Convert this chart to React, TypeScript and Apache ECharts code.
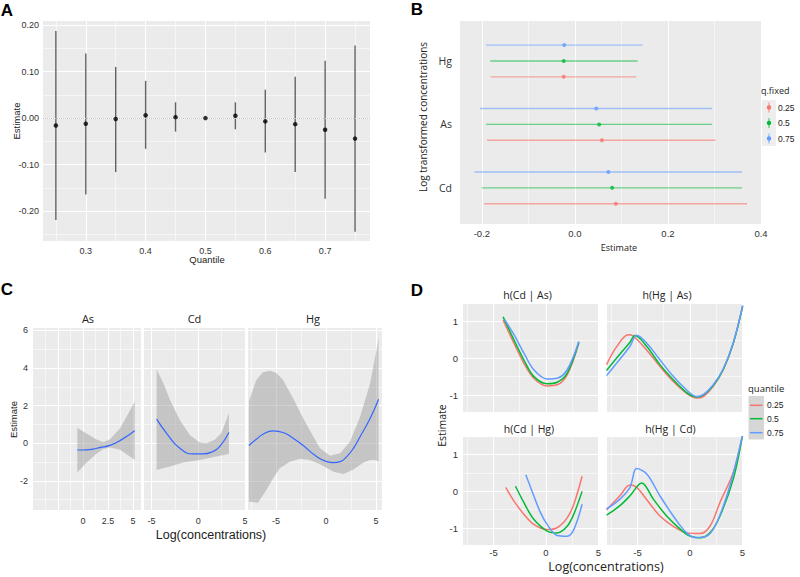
import React, { useEffect, useRef } from "react";
import * as echarts from "echarts";

// ---------------- Panel A ----------------
const quantiles = [0.25, 0.3, 0.35, 0.4, 0.45, 0.5, 0.55, 0.6, 0.65, 0.7, 0.75];
const aEstimate = [-0.016, -0.012, -0.002, 0.006, 0.002, 0.0, 0.005, -0.007, -0.013, -0.025, -0.044];
const aLower = [-0.219, -0.164, -0.116, -0.066, -0.029, -0.001, -0.024, -0.074, -0.116, -0.173, -0.244];
const aUpper = [0.187, 0.139, 0.11, 0.08, 0.034, 0.001, 0.034, 0.061, 0.089, 0.123, 0.156];

// ---------------- Panel B ----------------
const bMetals = ["Cd", "As", "Hg"];
const bLevels = ["0.25", "0.5", "0.75"];
const bEst025 = [0.088, 0.058, -0.024];
const bLow025 = [-0.195, -0.189, -0.181];
const bHigh025 = [0.37, 0.302, 0.132];
const bEst050 = [0.08, 0.052, -0.024];
const bLow050 = [-0.2, -0.191, -0.182];
const bHigh050 = [0.359, 0.295, 0.135];
const bEst075 = [0.072, 0.046, -0.023];
const bLow075 = [-0.216, -0.204, -0.191];
const bHigh075 = [0.359, 0.295, 0.145];

// ---------------- Panel C ----------------
const cFacets = ["As", "Cd", "Hg"];
const cAsFit = [[-0.57, -0.36], [0.37, -0.35], [1.0, -0.31], [1.67, -0.23], [2.7, -0.11], [3.7, 0.14], [5.17, 0.67]];
const cAsUpper = [[-0.57, 0.83], [0.37, 0.5], [1.37, 0.2], [2.03, 0.05], [2.7, 0.21], [3.7, 0.8], [4.37, 1.42], [5.17, 2.22]];
const cAsLower = [[-0.57, -1.56], [0.37, -1.03], [1.37, -0.55], [2.03, -0.3], [2.7, -0.22], [3.7, -0.35], [4.37, -0.58], [5.17, -0.89]];
const cCdFit = [[-4.45, 1.28], [-3.38, 0.53], [-1.97, -0.27], [-0.55, -0.57], [0.51, -0.57], [1.57, -0.44], [2.29, -0.18], [3.28, 0.57]];
const cCdUpper = [[-4.45, 3.94], [-3.74, 3.2], [-3.03, 2.31], [-1.97, 1.24], [-0.9, 0.44], [0.16, 0.04], [0.87, 0.0], [1.76, 0.18], [2.47, 0.53], [3.28, 1.6]];
const cCdLower = [[-4.45, -1.42], [-3.03, -1.24], [-1.61, -1.03], [0.16, -0.89], [1.93, -0.71], [3.28, -0.57]];
const cHgFit = [[-7.71, -0.12], [-6.97, 0.21], [-6.3, 0.48], [-5.3, 0.66], [-4.29, 0.57], [-3.29, 0.27], [-2.28, -0.12], [-0.94, -0.71], [0.07, -0.98], [0.74, -1.03], [1.41, -0.98], [2.08, -0.71], [2.74, -0.27], [3.42, 0.36], [4.42, 1.33], [5.26, 2.34]];
const cHgUpper = [[-7.71, 2.22], [-6.97, 3.37], [-6.3, 3.77], [-5.63, 3.85], [-4.96, 3.73], [-4.29, 3.37], [-3.29, 2.4], [-2.28, 1.33], [-1.27, 0.36], [-0.6, -0.27], [0.4, -0.67], [1.41, -0.53], [2.41, 0.09], [3.42, 1.42], [4.42, 3.2], [5.26, 5.54]];
const cHgLower = [[-7.71, -3.11], [-6.8, -3.16], [-5.96, -2.49], [-5.3, -1.87], [-4.62, -1.33], [-3.62, -0.98], [-2.61, -0.83], [-1.61, -0.89], [-0.6, -1.12], [0.74, -1.51], [1.74, -1.63], [2.74, -1.39], [3.75, -1.03], [4.42, -0.89], [4.92, -0.89], [5.26, -0.98]];

// ---------------- Panel D ----------------
const dFacets = ["h(Cd | As)", "h(Hg | As)", "h(Cd | Hg)", "h(Hg | Cd)"];
const dCdAs025 = [[-4.08, 1.04], [-3.06, 0.42], [-2.11, -0.13], [-1.16, -0.54], [0.11, -0.75], [1.06, -0.72], [2.02, -0.45], [3.13, 0.42]];
const dCdAs050 = [[-4.08, 1.13], [-3.06, 0.51], [-2.11, -0.04], [-1.16, -0.49], [0.11, -0.69], [1.06, -0.65], [2.02, -0.4], [3.13, 0.44]];
const dCdAs075 = [[-3.95, 1.06], [-3.06, 0.65], [-2.11, 0.15], [-1.16, -0.31], [0.11, -0.56], [1.06, -0.54], [2.02, -0.31], [3.13, 0.46]];
const dHgAs025 = [[-7.94, -0.17], [-6.98, 0.32], [-5.87, 0.64], [-5.4, 0.61], [-4.13, 0.23], [-2.86, -0.22], [-1.59, -0.63], [-0.32, -0.95], [0.63, -1.08], [1.27, -1.04], [2.22, -0.76], [3.17, -0.31], [4.13, 0.42], [5.02, 1.42]];
const dHgAs050 = [[-7.94, -0.33], [-6.98, 0.01], [-5.71, 0.44], [-5.24, 0.62], [-4.13, 0.33], [-2.86, -0.17], [-1.59, -0.58], [-0.32, -0.93], [0.63, -1.05], [1.27, -1.0], [2.22, -0.74], [3.17, -0.3], [4.13, 0.42], [5.02, 1.42]];
const dHgAs075 = [[-7.94, -0.47], [-6.98, -0.13], [-5.71, 0.33], [-5.08, 0.63], [-4.13, 0.42], [-2.86, -0.04], [-1.59, -0.49], [-0.32, -0.86], [0.63, -1.04], [1.27, -0.99], [2.22, -0.72], [3.17, -0.29], [4.13, 0.43], [5.02, 1.44]];
const dCdHg025 = [[-3.83, 0.11], [-3.06, -0.26], [-2.11, -0.62], [-1.16, -0.9], [0.11, -1.04], [1.06, -0.99], [2.02, -0.72], [2.65, -0.35], [3.44, 0.41]];
const dCdHg050 = [[-2.9, 0.14], [-2.11, -0.3], [-1.16, -0.76], [0.11, -1.08], [1.06, -1.13], [2.02, -0.95], [2.65, -0.62], [3.44, 0.0]];
const dCdHg075 = [[-1.92, 0.45], [-1.16, -0.12], [-0.52, -0.58], [0.11, -0.9], [1.06, -1.2], [2.02, -1.22], [2.65, -1.04], [3.44, -0.35]];
const dHgCd025 = [[-7.94, -0.5], [-6.67, -0.12], [-5.71, 0.17], [-5.08, 0.11], [-4.13, -0.22], [-2.86, -0.67], [-1.59, -0.95], [-0.32, -1.13], [0.95, -1.15], [1.9, -0.95], [2.86, -0.3], [4.13, 0.52], [5.02, 1.55]];
const dHgCd050 = [[-7.94, -0.65], [-6.67, -0.39], [-5.71, -0.12], [-4.6, 0.23], [-3.49, -0.21], [-2.22, -0.67], [-0.95, -1.02], [0.0, -1.22], [0.95, -1.26], [1.9, -1.13], [2.86, -0.67], [4.13, 0.34], [5.02, 1.55]];
const dHgCd075 = [[-7.94, -0.48], [-6.67, -0.21], [-5.71, 0.11], [-5.08, 0.62], [-4.13, 0.48], [-2.86, -0.12], [-1.59, -0.67], [-0.32, -1.13], [0.63, -1.26], [1.59, -1.22], [2.54, -0.86], [3.81, 0.16], [5.02, 1.55]];

// ---------------- styling ----------------
const COLORS = ["#F8766D", "#00BA38", "#619CFF"];
const COLORS_A = ["rgba(248,118,109,0.6)", "rgba(0,186,56,0.55)", "rgba(97,156,255,0.55)"];
const FONT = "'Liberation Sans', Arial, sans-serif";
const FONT2 = "'Open Sans', 'Noto Sans', sans-serif";
const TXT = "#333333";

function grid(left: number, top: number, width: number, height: number) {
  return { left, top, width, height, show: true, backgroundColor: "#EBEBEB", borderWidth: 0, containLabel: false };
}

function vAxis(gridIndex: number, min: number, max: number, o: any = {}) {
  return {
    type: "value",
    gridIndex,
    min,
    max,
    splitNumber: o.split,
    interval: o.interval,
    axisLine: { show: false },
    axisTick: { show: false },
    axisLabel: {
      show: o.labels !== false,
      fontSize: o.fontSize ?? 9.5,
      fontFamily: o.font ?? FONT,
      color: TXT,
      margin: o.margin ?? 4,
      formatter: o.fmt,
      showMinLabel: o.showMin ?? false,
      showMaxLabel: o.showMax ?? false,
    },
    splitLine: {
      show: o.grid !== false,
      showMinLine: false,
      showMaxLine: false,
      lineStyle: { color: "#FFFFFF", width: o.majorW ?? 1.1 },
    },
    minorTick: { show: false, splitNumber: 2 },
    minorSplitLine: { show: o.minor !== false, lineStyle: { color: "#FFFFFF", width: 0.55 } },
  };
}

function txt(text: string, x: number, y: number, size: number, o: any = {}) {
  return {
    type: "text",
    x,
    y,
    rotation: o.rot ?? 0,
    silent: true,
    style: {
      text,
      fontSize: size,
      fontFamily: o.font ?? FONT,
      fontWeight: o.bold ? "bold" : "normal",
      fill: o.fill ?? "#222222",
      textAlign: o.align ?? "center",
      textVerticalAlign: "middle",
    },
  };
}

function bandSeries(gi: number, upper: number[][], lower: number[][]) {
  return {
    type: "custom",
    xAxisIndex: gi,
    yAxisIndex: gi,
    silent: true,
    z: 1,
    data: [0],
    renderItem: (_p: any, api: any) => {
      const pts = upper.map((p) => api.coord(p)).concat(lower.slice().reverse().map((p) => api.coord(p)));
      return { type: "polygon", shape: { points: pts }, style: { fill: "rgba(150,150,150,0.45)" } };
    },
  };
}

function fitSeries(gi: number, data: number[][]) {
  return {
    type: "line",
    xAxisIndex: gi,
    yAxisIndex: gi,
    data,
    smooth: true,
    showSymbol: false,
    silent: true,
    z: 3,
    lineStyle: { color: "#3366FF", width: 1.2 },
  };
}

function dSeries(gi: number, data: number[][], ci: number) {
  return {
    type: "line",
    xAxisIndex: gi,
    yAxisIndex: gi,
    data,
    smooth: 0.35,
    showSymbol: false,
    silent: true,
    z: 3 + ci,
    lineStyle: { color: COLORS[ci], width: 1.5 },
  };
}

function bRange(gi: number, lo: number[], hi: number[], est: number[], li: number) {
  const offset = (li - 1) * 0.25;
  const rows = bMetals.map((_, i) => [lo[i], hi[i], i + 1 + offset, est[i]]);
  return [
    {
      type: "custom",
      xAxisIndex: gi,
      yAxisIndex: gi,
      silent: true,
      data: rows,
      renderItem: (_p: any, api: any) => {
        const y = api.value(2);
        const p1 = api.coord([api.value(0), y]);
        const p2 = api.coord([api.value(1), y]);
        return {
          type: "line",
          shape: { x1: p1[0], y1: p1[1], x2: p2[0], y2: p2[1] },
          style: { stroke: COLORS_A[li], lineWidth: 1.4 },
        };
      },
    },
    {
      type: "scatter",
      xAxisIndex: gi,
      yAxisIndex: gi,
      silent: true,
      symbolSize: 4,
      itemStyle: { color: COLORS[li] },
      z: 4,
      data: rows.map((r) => [r[3], r[2]]),
    },
  ];
}

export default function App() {
  const ref = useRef<HTMLDivElement>(null);
  useEffect(() => {
    if (!ref.current) return;
    const chart = echarts.init(ref.current, null, { renderer: "svg" });

    const grids = [
      grid(43, 21, 327, 220), // A
      grid(460, 21, 301, 203), // B
      grid(33, 328, 108, 182), // C As
      grid(144, 328, 101, 182), // C Cd
      grid(248, 328, 134, 182), // C Hg
      grid(463, 304, 136, 108), // D TL
      grid(607, 304, 136, 108), // D TR
      grid(463, 437, 136, 108), // D BL
      grid(607, 437, 136, 108), // D BR
    ];

    const dX = (gi: number, labels: boolean) =>
      vAxis(gi, -7.9, 5.05, { split: 3, labels, fmt: (v: number) => String(v), margin: 2, fontSize: 9.5 });
    const dY = (gi: number, labels: boolean) =>
      vAxis(gi, -1.46, 1.48, { split: 3, labels, fmt: (v: number) => String(v), margin: 5, fontSize: 9.5 });

    const xAxis = [
      vAxis(0, 0.2285, 0.775, { split: 5, fmt: (v: number) => v.toFixed(1), fontSize: 9, margin: 5 }),
      vAxis(1, -0.247, 0.4, { split: 3, fmt: (v: number) => v.toFixed(1), fontSize: 9.5, margin: 4, showMax: true, majorW: 0.9, minor: true }),
      vAxis(2, -5, 5.8, { interval: 2.5, fmt: (v: number) => (v < -0.01 ? "" : String(v)), fontSize: 9, margin: 6 }),
      vAxis(3, -5.8, 5, { split: 2, fmt: (v: number) => String(v), fontSize: 9, margin: 6, showMax: true }),
      vAxis(4, -7.8, 5.6, { split: 3, fmt: (v: number) => String(v), fontSize: 9, margin: 6 }),
      dX(5, false),
      dX(6, false),
      dX(7, true),
      dX(8, true),
    ];

    const yAxis = [
      vAxis(0, -0.264, 0.2086, { split: 5, fmt: (v: number) => v.toFixed(2), fontSize: 9, margin: 4 }),
      vAxis(1, 0.43, 3.63, {
        split: 3,
        grid: false,
        minor: false,
        font: FONT2,
        fontSize: 10.5,
        margin: 8,
        fmt: (v: number) => (Math.abs(v - Math.round(v)) < 1e-6 ? bMetals[Math.round(v) - 1] ?? "" : ""),
      }),
      vAxis(2, -3.55, 6.13, { split: 5, fmt: (v: number) => String(v), fontSize: 9, margin: 5 }),
      vAxis(3, -3.55, 6.13, { split: 5, labels: false }),
      vAxis(4, -3.55, 6.13, { split: 5, labels: false }),
      dY(5, true),
      dY(6, false),
      dY(7, true),
      dY(8, false),
    ];

    const series: any[] = [
      // Panel A
      {
        type: "custom",
        xAxisIndex: 0,
        yAxisIndex: 0,
        silent: true,
        z: 2,
        data: quantiles.map((q, i) => [q, aLower[i], aUpper[i]]),
        renderItem: (_p: any, api: any) => {
          const p1 = api.coord([api.value(0), api.value(1)]);
          const p2 = api.coord([api.value(0), api.value(2)]);
          return {
            type: "line",
            shape: { x1: p1[0], y1: p1[1], x2: p2[0], y2: p2[1] },
            style: { stroke: "#636363", lineWidth: 1.4 },
          };
        },
        markLine: {
          silent: true,
          symbol: ["none", "none"],
          label: { show: false },
          lineStyle: { type: "dotted", color: "#C4C4C4", width: 1 },
          data: [{ yAxis: 0 }],
        },
      },
      {
        type: "scatter",
        xAxisIndex: 0,
        yAxisIndex: 0,
        silent: true,
        symbolSize: 4.5,
        itemStyle: { color: "#000000" },
        z: 5,
        data: quantiles.map((q, i) => [q, aEstimate[i]]),
      },
      // Panel B
      ...bRange(1, bLow025, bHigh025, bEst025, 0),
      ...bRange(1, bLow050, bHigh050, bEst050, 1),
      ...bRange(1, bLow075, bHigh075, bEst075, 2),
      // Panel C
      bandSeries(2, cAsUpper, cAsLower),
      fitSeries(2, cAsFit),
      bandSeries(3, cCdUpper, cCdLower),
      fitSeries(3, cCdFit),
      bandSeries(4, cHgUpper, cHgLower),
      fitSeries(4, cHgFit),
      // Panel D
      dSeries(5, dCdAs025, 0),
      dSeries(5, dCdAs050, 1),
      dSeries(5, dCdAs075, 2),
      dSeries(6, dHgAs025, 0),
      dSeries(6, dHgAs050, 1),
      dSeries(6, dHgAs075, 2),
      dSeries(7, dCdHg025, 0),
      dSeries(7, dCdHg050, 1),
      dSeries(7, dCdHg075, 2),
      dSeries(8, dHgCd025, 0),
      dSeries(8, dHgCd050, 1),
      dSeries(8, dHgCd075, 2),
    ];

    const bLegendY = [107.5, 123, 138.5];
    const dLegendY = [405.3, 418.7, 432.7];
    const graphic: any[] = [
      // panel letters
      txt("A", 7, 10.5, 17, { bold: true, fill: "#000" }),
      txt("B", 417, 9.5, 17, { bold: true, fill: "#000" }),
      txt("C", 7, 289, 17, { bold: true, fill: "#000" }),
      txt("D", 417, 290, 17, { bold: true, fill: "#000" }),
      // A titles
      txt("Estimate", 16, 121, 9.5, { rot: Math.PI / 2 }),
      txt("Quantile", 207, 259.5, 9.5),
      // B titles
      txt("Estimate", 619, 247.5, 9, { font: FONT2 }),
      txt("Log transformed concentrations", 423, 117, 10, { rot: Math.PI / 2, font: FONT2 }),
      // B legend
      txt("q.fixed", 761, 90, 9, { align: "left", font: FONT2 }),
      { type: "rect", silent: true, shape: { x: 762, y: 100, width: 14, height: 46 }, style: { fill: "#EEEEEE" } },
      // C titles
      txt(cFacets[0], 88, 318, 11, { font: FONT2 }),
      txt(cFacets[1], 194.5, 318, 11, { font: FONT2 }),
      txt(cFacets[2], 313, 318, 11, { font: FONT2 }),
      txt("Estimate", 13, 419.5, 9.5, { rot: Math.PI / 2 }),
      txt("Log(concentrations)", 211, 535, 12.5),
      // D titles
      txt(dFacets[0], 527.5, 295, 10.5, { font: FONT2 }),
      txt(dFacets[1], 667, 295, 10.5, { font: FONT2 }),
      txt(dFacets[2], 529, 429, 10.5, { font: FONT2 }),
      txt(dFacets[3], 670.5, 429, 10.5, { font: FONT2 }),
      txt("Estimate", 442, 425.5, 10.5, { rot: Math.PI / 2, font: FONT2 }),
      txt("Log(concentrations)", 606, 566, 12.5, { font: FONT2 }),
      // D legend
      txt("quantile", 748, 388.5, 9.5, { align: "left", font: FONT2 }),
      { type: "rect", silent: true, shape: { x: 748.5, y: 396, width: 15.5, height: 43.5 }, style: { fill: "#D6D6D6" } },
    ];
    bLevels.forEach((lab, i) => {
      const y = bLegendY[i];
      graphic.push({ type: "line", silent: true, shape: { x1: 769, y1: y - 5, x2: 769, y2: y + 5 }, style: { stroke: COLORS_A[i], lineWidth: 1.4 } });
      graphic.push({ type: "circle", silent: true, shape: { cx: 769, cy: y, r: 2.2 }, style: { fill: COLORS[i] } });
      graphic.push(txt(lab, 778, y, 8.5, { align: "left" }));
    });
    bLevels.forEach((lab, i) => {
      const y = dLegendY[i];
      graphic.push({ type: "line", silent: true, shape: { x1: 750, y1: y, x2: 762.5, y2: y }, style: { stroke: COLORS[i], lineWidth: 1.5 } });
      graphic.push(txt(lab, 767, y, 8.5, { align: "left" }));
    });

    chart.setOption({
      animation: false,
      backgroundColor: "#FFFFFF",
      textStyle: { fontFamily: FONT },
      grid: grids,
      xAxis,
      yAxis,
      series,
      graphic,
    });
    return () => chart.dispose();
  }, []);

  return <div ref={ref} style={{ position: "absolute", left: 0, top: 0, width: 800, height: 577 }} />;
}
